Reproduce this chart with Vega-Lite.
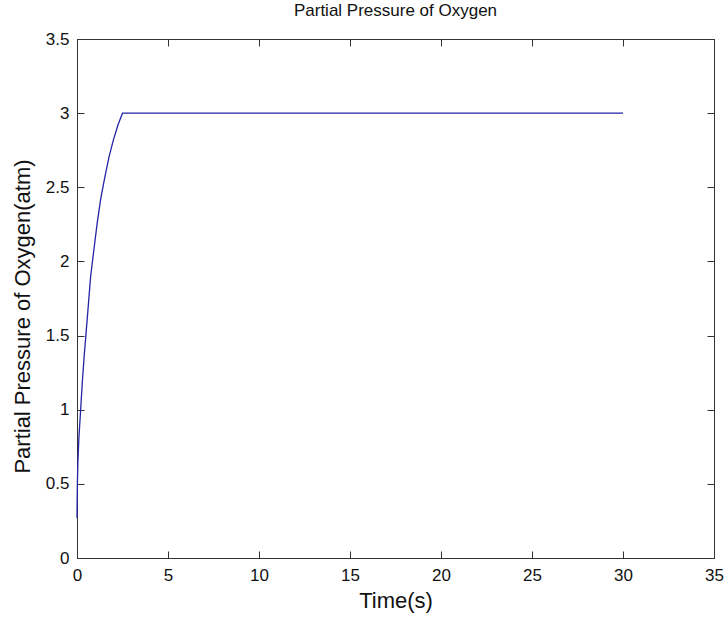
{
  "$schema": "https://vega.github.io/schema/vega-lite/v6.json",
  "autosize": "none",
  "width": 637,
  "height": 519,
  "padding": {"left": 77, "top": 39, "right": 10, "bottom": 61},
  "background": "white",
  "title": {"text": "Partial Pressure of Oxygen", "fontSize": 17, "fontWeight": "normal", "font": "Liberation Sans", "color": "#111", "offset": 10},
  "config": {
    "view": {"stroke": "#333", "strokeWidth": 1},
    "axis": {"grid": false, "domainColor": "#333", "tickColor": "#333", "labelFont": "Liberation Sans", "titleFont": "Liberation Sans", "labelColor": "#111", "titleColor": "#111", "labelFontSize": 17, "titleFontSize": 22, "titleFontWeight": "normal", "tickSize": -7, "tickWidth": 1}
  },
  "data": {"values": [
    {"t": 0, "p": 0.27},
    {"t": 0.02, "p": 0.5},
    {"t": 0.05, "p": 0.65},
    {"t": 0.1, "p": 0.8},
    {"t": 0.2, "p": 1.0},
    {"t": 0.3, "p": 1.2},
    {"t": 0.4, "p": 1.37},
    {"t": 0.5, "p": 1.52},
    {"t": 0.6, "p": 1.67},
    {"t": 0.75, "p": 1.9},
    {"t": 0.9, "p": 2.05},
    {"t": 1.1, "p": 2.25},
    {"t": 1.3, "p": 2.42},
    {"t": 1.5, "p": 2.55},
    {"t": 1.75, "p": 2.7},
    {"t": 2.0, "p": 2.82},
    {"t": 2.25, "p": 2.92},
    {"t": 2.5, "p": 3.0},
    {"t": 30, "p": 3.0}
  ]},
  "layer": [
    {
      "mark": {"type": "line", "color": "#2424a6", "strokeWidth": 1.3},
      "encoding": {
        "x": {"field": "t", "type": "quantitative", "scale": {"domain": [0, 35], "nice": false, "zero": false},
              "axis": {"orient": "bottom", "values": [0,5,10,15,20,25,30,35], "format": "~g", "title": "Time(s)", "labelPadding": 16, "titlePadding": 7, "labelFlush": false}},
        "y": {"field": "p", "type": "quantitative", "scale": {"domain": [0, 3.5], "nice": false},
              "axis": {"orient": "left", "values": [0,0.5,1,1.5,2,2.5,3,3.5], "format": "~g", "title": "Partial Pressure of Oxygen(atm)", "labelPadding": 15, "titlePadding": 11, "titleY": 277, "labelFlush": false}}
      }
    },
    {
      "mark": {"type": "line", "opacity": 0},
      "encoding": {
        "x": {"field": "t", "type": "quantitative", "scale": {"domain": [0, 35], "nice": false, "zero": false},
              "axis": {"orient": "top", "values": [0,5,10,15,20,25,30,35], "labels": false, "title": null}},
        "y": {"field": "p", "type": "quantitative", "scale": {"domain": [0, 3.5], "nice": false},
              "axis": {"orient": "right", "values": [0,0.5,1,1.5,2,2.5,3,3.5], "labels": false, "title": null}}
      }
    }
  ],
  "resolve": {"axis": {"x": "independent", "y": "independent"}}
}
